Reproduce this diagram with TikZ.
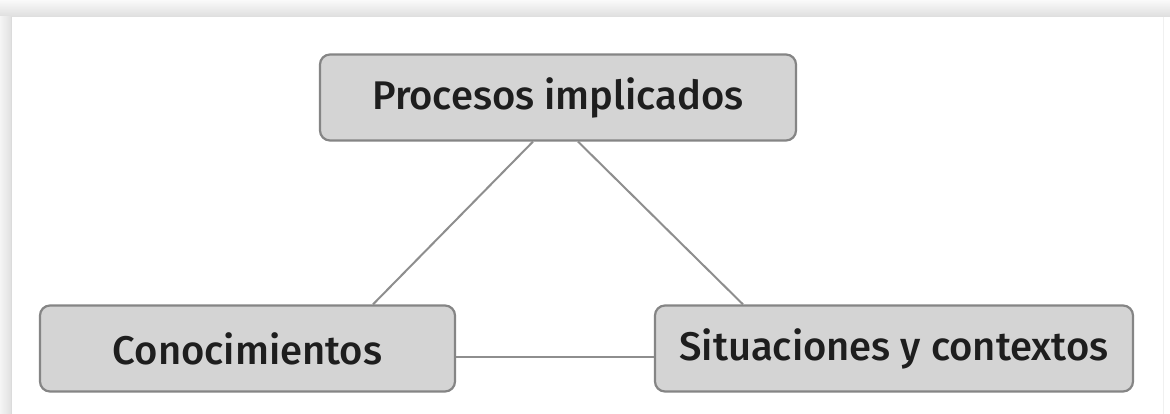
\documentclass[tikz,border=0pt]{standalone}
\usepackage{fontspec}
\setmainfont{Fira Sans}
\newfontfamily\boxfont{Fira Sans Medium}
\definecolor{boxfill}{HTML}{D4D4D4}
\definecolor{boxline}{HTML}{858585}
\definecolor{conn}{HTML}{8E8E8E}
\definecolor{txt}{HTML}{1E1E1E}
\begin{document}
\begin{tikzpicture}[x=1pt,y=-1pt,
  conceptbox/.style={draw=boxline, line width=2.2pt, fill=boxfill, rounded corners=10pt,
    minimum height=86pt, inner sep=0pt, text=txt, font=\boxfont\fontsize{40}{45}\selectfont},
  connector/.style={draw=conn, line width=2pt}]
\useasboundingbox (0,0) rectangle (1170,414);
\fill[white] (0,0) rectangle (1170,414);
\shade[top color=black!2, bottom color=black!13] (0,0) rectangle (1170,17);
\shade[left color=black!4, right color=black!12] (0,17) rectangle (11,414);
\draw[black!14, line width=1pt] (11.5,17) -- (11.5,414);
\draw[black!6, line width=1pt] (1163,17) -- (1163,414);
\node[conceptbox, minimum width=476pt] (top) at (558,97.5) {Procesos implicados};
\node[conceptbox, minimum width=415pt] (left) at (247.5,348.5) {Conocimientos};
\node[conceptbox, minimum width=478pt] (right) at (894,348.5) {Situaciones y contextos};
\draw[connector] ([xshift=-25pt]top.south) -- ([xshift=125.5pt]left.north);
\draw[connector] ([xshift=20pt]top.south) -- ([xshift=-151pt]right.north);
\draw[connector] ([yshift=-8.5pt]left.east) -- ([yshift=-8.5pt]right.west);
\end{tikzpicture}
\end{document}
